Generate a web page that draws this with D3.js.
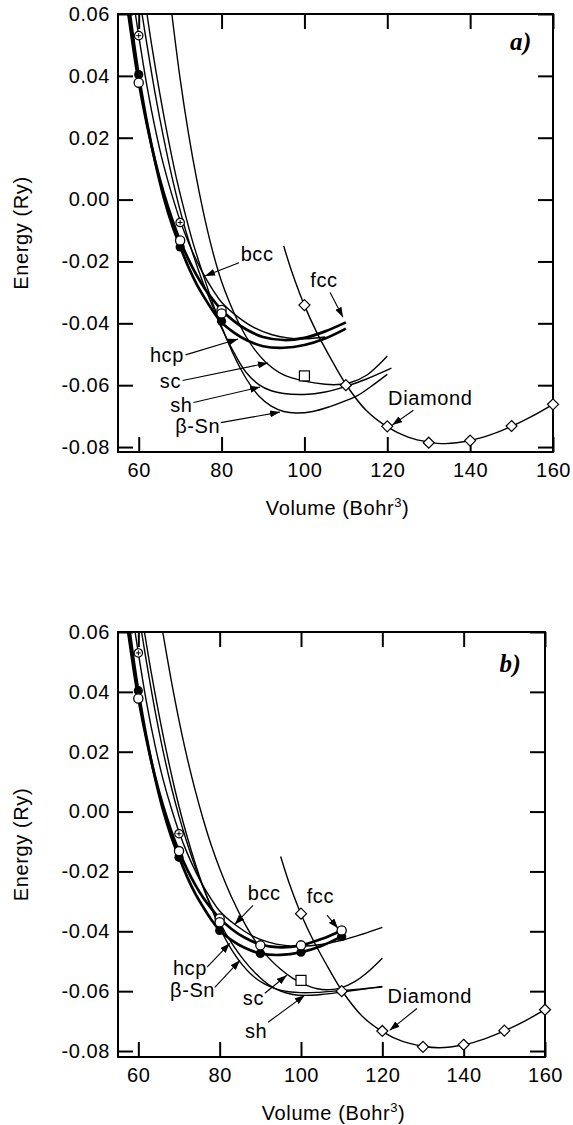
<!DOCTYPE html>
<html>
<head>
<meta charset="utf-8">
<script src="https://cdn.jsdelivr.net/npm/d3@7"></script>
<style>
  body { margin: 0; background: #fff; }
  svg text { font-family: "Liberation Sans", Arial, sans-serif; font-size: 20px; letter-spacing: 0.6px; fill: #000; }
  .panel-tag { font-family: "Liberation Serif", "Times New Roman", serif; font-weight: bold; font-style: italic; font-size: 25px; letter-spacing: 0.5px; }
</style>
</head>
<body>
<svg width="573" height="1125"></svg>
<script>
// Volume (Bohr^3) and energy (Ry)
const xTicks = [60, 80, 100, 120, 140, 160];
const yTicks = [-0.08, -0.06, -0.04, -0.02, 0, 0.02, 0.04, 0.06];

const diamondV = [95, 97, 100, 103, 106, 110, 115, 120, 125, 130, 134, 140, 145, 150, 155, 160];
const diamondE = [-0.015, -0.0235, -0.0342, -0.043, -0.0505, -0.0597, -0.0683, -0.0735, -0.0768, -0.0784, -0.0789, -0.0779, -0.076, -0.0733, -0.07, -0.0662];
const diamondPtV = [100, 110, 120, 130, 140, 150, 160];
const diamondPtE = [-0.0341, -0.060, -0.0733, -0.0786, -0.0779, -0.0732, -0.0662];

const fccV = [57.5, 59, 60, 62, 64, 66, 68, 70, 72, 74, 76, 78, 80, 83, 86, 90, 95, 100, 105, 110];
const fccE = [0.06, 0.0461, 0.0379, 0.0241, 0.0123, 0.0023, -0.0061, -0.0133, -0.0193, -0.0245, -0.0289, -0.0325, -0.0357, -0.0393, -0.042, -0.0444, -0.0454, -0.0447, -0.0426, -0.0397];
const hcpV = [57.9, 59, 60, 62, 64, 66, 68, 70, 72, 74, 76, 78, 80, 83, 86, 90, 95, 100, 105, 110];
const hcpE = [0.06, 0.0491, 0.0403, 0.0249, 0.0119, 0.0009, -0.008, -0.0152, -0.0218, -0.0274, -0.032, -0.0362, -0.0397, -0.043, -0.0454, -0.0474, -0.0479, -0.047, -0.0449, -0.0417];
const bccV = [59.2, 60, 62, 64, 66, 68, 70, 72, 74, 76, 78, 80, 84, 88, 92, 96, 100, 105, 110, 115, 120];
const bccE = [0.06, 0.053, 0.0366, 0.0228, 0.0112, 0.0016, -0.0068, -0.0138, -0.0198, -0.025, -0.0294, -0.0332, -0.038, -0.0415, -0.0436, -0.0447, -0.045, -0.0444, -0.043, -0.041, -0.0387];

// panel a
const scAV = [68, 70, 72, 74, 76, 78, 80, 82, 84, 86, 88, 91, 95, 100, 105, 108, 111, 115, 120];
const scAE = [0.06, 0.039, 0.0215, 0.0065, -0.0065, -0.0175, -0.0265, -0.0335, -0.0395, -0.0445, -0.0485, -0.053, -0.0567, -0.0587, -0.0597, -0.0598, -0.0592, -0.0568, -0.0506];
const shAV = [60.8, 62, 64, 66, 68, 70, 72, 75, 78, 80, 83, 86, 89, 92, 95, 100, 105, 110, 115, 121];
const shAE = [0.06, 0.05, 0.034, 0.02, 0.0075, -0.0035, -0.013, -0.025, -0.035, -0.0415, -0.0495, -0.056, -0.0598, -0.0618, -0.0627, -0.063, -0.0622, -0.0604, -0.058, -0.0545];
const snAV = [62, 63, 65, 67, 69, 71, 73, 75, 78, 80, 83, 86, 89, 92, 95, 98, 102, 106, 110, 113, 116, 120];
const snAE = [0.06, 0.051, 0.035, 0.0205, 0.0075, -0.0035, -0.0135, -0.022, -0.034, -0.041, -0.0505, -0.058, -0.0635, -0.0668, -0.0685, -0.069, -0.0685, -0.067, -0.065, -0.0632, -0.0605, -0.0565];

// panel b
const scBV = [66, 68, 70, 72, 74, 76, 78, 80, 83, 86, 89, 92, 95, 98, 101, 104, 107, 110, 113, 116, 120];
const scBE = [0.06, 0.0445, 0.0305, 0.018, 0.007, -0.0028, -0.0115, -0.019, -0.0288, -0.037, -0.0437, -0.0488, -0.0527, -0.0557, -0.0578, -0.0592, -0.0595, -0.0588, -0.057, -0.0541, -0.049];
const shBV = [60.8, 62, 64, 66, 68, 70, 72, 74, 76, 78, 80, 83, 86, 89, 92, 95, 98, 101, 105, 110, 115, 120];
const shBE = [0.06, 0.05, 0.0345, 0.0208, 0.0088, -0.0015, -0.0105, -0.0185, -0.0255, -0.0318, -0.0372, -0.044, -0.0497, -0.0543, -0.0578, -0.06, -0.0611, -0.0614, -0.0611, -0.0603, -0.0594, -0.0584];
const snBV = [61.5, 63, 65, 67, 69, 71, 73, 75, 77, 79, 81, 83, 85, 88, 91, 94, 97, 100, 104, 108, 112, 116, 120];
const snBE = [0.06, 0.0478, 0.033, 0.0195, 0.0073, -0.0035, -0.013, -0.0215, -0.029, -0.0357, -0.0415, -0.0463, -0.0502, -0.0547, -0.0576, -0.0593, -0.0602, -0.0605, -0.0604, -0.06, -0.0596, -0.0591, -0.0586];

// calculated points
const plusV = [60, 70];
const plusE = [0.053, -0.0074];
const openAV = [60, 70, 80, 80];
const openAE = [0.0378, -0.0132, -0.0357, -0.0368];
const fullAV = [60, 70, 80];
const fullAE = [0.0404, -0.0153, -0.0393];
const openBV = [60, 70, 80, 80, 90, 100, 110];
const openBE = [0.0378, -0.0132, -0.0357, -0.037, -0.0447, -0.0447, -0.0397];
const fullBV = [60, 70, 80, 90, 100, 110];
const fullBE = [0.0404, -0.0153, -0.0397, -0.0474, -0.047, -0.0417];
const squareA = [100, -0.057];
const squareB = [100, -0.0564];

const svg = d3.select('svg');
const defs = svg.append('defs');
defs.append('marker')
  .attr('id', 'arrow')
  .attr('viewBox', '0 0 10 7')
  .attr('refX', 10).attr('refY', 3.5)
  .attr('markerWidth', 10).attr('markerHeight', 7)
  .attr('markerUnits', 'userSpaceOnUse')
  .attr('orient', 'auto')
  .append('path').attr('d', 'M0,0L10,3.5L0,7z').attr('fill', '#000');

function drawPanel(p) {
  const x = d3.scaleLinear().domain([55, 160]).range([p.left, p.right]);
  const y = d3.scaleLinear().domain(p.yDomain).range([p.bottom, p.top]);
  const g = svg.append('g');

  defs.append('clipPath').attr('id', 'clip-' + p.tag)
    .append('rect')
    .attr('x', p.left).attr('y', p.top)
    .attr('width', p.right - p.left).attr('height', p.bottom - p.top);

  // axes, ticks pointing inward on all four sides
  const fmt = d => d.toFixed(2);
  g.append('g').attr('transform', `translate(${p.left},0)`)
    .call(d3.axisLeft(y).tickValues(yTicks).tickFormat(fmt).tickSizeInner(-15).tickSizeOuter(0).tickPadding(8));
  g.append('g').attr('transform', `translate(${p.right},0)`)
    .call(d3.axisRight(y).tickValues(yTicks).tickFormat('').tickSizeInner(-15).tickSizeOuter(0));
  g.append('g').attr('transform', `translate(0,${p.bottom})`)
    .call(d3.axisBottom(x).tickValues(xTicks).tickFormat(d3.format('d')).tickSizeInner(-15).tickSizeOuter(0).tickPadding(11));
  g.append('g').attr('transform', `translate(0,${p.top})`)
    .call(d3.axisTop(x).tickValues(xTicks).tickFormat('').tickSizeInner(-15).tickSizeOuter(0));
  g.selectAll('.tick line').attr('stroke', '#000').attr('stroke-width', 2);
  g.selectAll('.domain').remove();
  g.selectAll('.tick text').attr('font-size', null).attr('font-family', null).attr('fill', null);
  g.append('rect')
    .attr('x', p.left).attr('y', p.top)
    .attr('width', p.right - p.left).attr('height', p.bottom - p.top)
    .attr('fill', 'none').attr('stroke', '#000').attr('stroke-width', 2);

  // curves
  const line = d3.line().x(d => x(d[0])).y(d => y(d[1])).curve(d3.curveCatmullRom.alpha(0.5));
  const plot = g.append('g').attr('clip-path', `url(#clip-${p.tag})`);
  p.curves.forEach(c => {
    const pts = d3.zip(c.v, c.e).filter(d => d[0] <= (c.maxV || 200));
    plot.append('path').datum(pts)
      .attr('d', line)
      .attr('fill', 'none').attr('stroke', '#000')
      .attr('stroke-width', c.thick ? 2.7 : 1.4)
      .attr('stroke-linejoin', 'round');
  });

  // points
  const pg = g.append('g');
  pg.selectAll('.dia').data(d3.zip(diamondPtV, diamondPtE)).join('path')
    .attr('d', 'M0,-5.5L5.5,0L0,5.5L-5.5,0Z')
    .attr('transform', d => `translate(${x(d[0])},${y(d[1])})`)
    .attr('fill', '#fff').attr('stroke', '#000').attr('stroke-width', 1.2);
  pg.append('rect')
    .attr('x', x(p.square[0]) - 5).attr('y', y(p.square[1]) - 5)
    .attr('width', 10).attr('height', 10)
    .attr('fill', '#fff').attr('stroke', '#000').attr('stroke-width', 1.2);
  pg.selectAll('.full').data(d3.zip(p.fullV, p.fullE)).join('circle')
    .attr('cx', d => x(d[0])).attr('cy', d => y(d[1])).attr('r', 4.6)
    .attr('fill', '#000');
  pg.selectAll('.open').data(d3.zip(p.openV, p.openE)).join('circle')
    .attr('cx', d => x(d[0])).attr('cy', d => y(d[1])).attr('r', 4.6)
    .attr('fill', '#fff').attr('stroke', '#000').attr('stroke-width', 1.3);
  const plus = pg.selectAll('.plus').data(d3.zip(plusV, plusE)).join('g')
    .attr('transform', d => `translate(${x(d[0])},${y(d[1])})`);
  plus.append('circle').attr('r', 4.2).attr('fill', '#fff').attr('stroke', '#000').attr('stroke-width', 1.2);
  plus.append('path').attr('d', 'M-2.5,0H2.5M0,-2.5V2.5').attr('stroke', '#000').attr('stroke-width', 1);

  // labels with arrows
  p.notes.forEach(n => {
    g.append('text').attr('x', x(n.at[0])).attr('y', y(n.at[1])).text(n.text);
    g.append('line')
      .attr('x1', x(n.tail[0])).attr('y1', y(n.tail[1]))
      .attr('x2', x(n.tip[0])).attr('y2', y(n.tip[1]))
      .attr('stroke', '#000').attr('stroke-width', 1.1)
      .attr('marker-end', 'url(#arrow)');
  });

  g.append('text').attr('class', 'panel-tag')
    .attr('x', x(p.tagAt[0])).attr('y', y(p.tagAt[1])).text(p.tag + ')');

  // axis titles
  g.append('text')
    .attr('transform', `translate(28,${(p.top + p.bottom) / 2}) rotate(-90)`)
    .attr('text-anchor', 'middle')
    .text('Energy (Ry)');
  const xt = g.append('text')
    .attr('x', x(108)).attr('y', p.bottom + 63)
    .attr('text-anchor', 'middle')
    .text('Volume (Bohr');
  xt.append('tspan').attr('dy', -8).attr('font-size', 13).text('3');
  xt.append('tspan').attr('dy', 8).text(')');
}

drawPanel({
  tag: 'a', left: 118, right: 553, top: 14, bottom: 452,
  yDomain: [-0.0816, 0.06],
  curves: [
    { v: diamondV, e: diamondE },
    { v: bccV, e: bccE, maxV: 105 },
    { v: fccV, e: fccE, thick: true },
    { v: hcpV, e: hcpE, thick: true },
    { v: scAV, e: scAE },
    { v: shAV, e: shAE },
    { v: snAV, e: snAE }
  ],
  openV: openAV, openE: openAE, fullV: fullAV, fullE: fullAE, square: squareA,
  tagAt: [149.6, 0.0484],
  notes: [
    { text: 'bcc', at: [84.6, -0.0199], tail: [84.2, -0.0204], tip: [76.0, -0.0247] },
    { text: 'fcc', at: [101.4, -0.0283], tail: [106.2, -0.0300], tip: [109.3, -0.0380] },
    { text: 'hcp', at: [62.7, -0.0525], tail: [71.3, -0.0502], tip: [84.0, -0.0451] },
    { text: 'sc', at: [65.1, -0.0609], tail: [70.6, -0.0585], tip: [91.2, -0.0528] },
    { text: 'sh', at: [67.6, -0.0687], tail: [73.2, -0.0656], tip: [89.3, -0.0606] },
    { text: 'β-Sn', at: [68.8, -0.0755], tail: [79.8, -0.0721], tip: [94.1, -0.0687] },
    { text: 'Diamond', at: [120.2, -0.0664], tail: [126.3, -0.0681], tip: [121.2, -0.0729] }
  ]
});

drawPanel({
  tag: 'b', left: 118, right: 545, top: 632, bottom: 1057,
  yDomain: [-0.082, 0.06],
  curves: [
    { v: diamondV, e: diamondE },
    { v: bccV, e: bccE },
    { v: fccV, e: fccE, thick: true },
    { v: hcpV, e: hcpE, thick: true },
    { v: scBV, e: scBE },
    { v: shBV, e: shBE },
    { v: snBV, e: snBE }
  ],
  openV: openBV, openE: openBE, fullV: fullBV, fullE: fullBE, square: squareB,
  tagAt: [148.8, 0.0466],
  notes: [
    { text: 'bcc', at: [86.9, -0.0296], tail: [88.2, -0.0313], tip: [83.7, -0.0377] },
    { text: 'fcc', at: [101.4, -0.0306], tail: [106.4, -0.0346], tip: [109.1, -0.0390] },
    { text: 'hcp', at: [68.5, -0.0547], tail: [76.9, -0.0520], tip: [82.5, -0.0440] },
    { text: 'β-Sn', at: [67.8, -0.0621], tail: [78.8, -0.0587], tip: [85.0, -0.0497] },
    { text: 'sc', at: [85.7, -0.0647], tail: [91.1, -0.0607], tip: [96.5, -0.0547] },
    { text: 'sh', at: [86.2, -0.0758], tail: [91.9, -0.0704], tip: [100.9, -0.0614] },
    { text: 'Diamond', at: [121.3, -0.0641], tail: [128.5, -0.0658], tip: [121.8, -0.0731] }
  ]
});
</script>
</body>
</html>
